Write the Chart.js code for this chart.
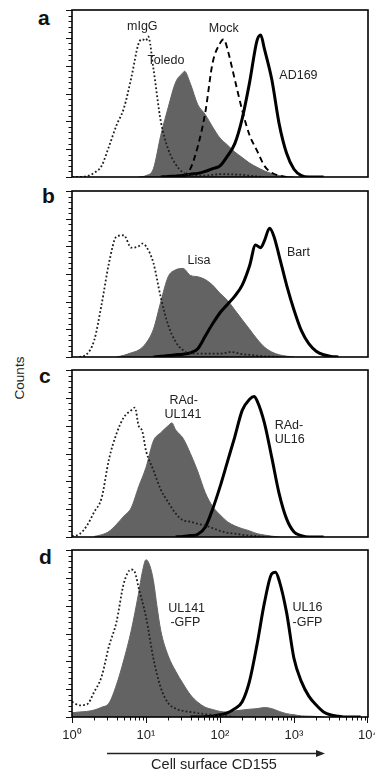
<!DOCTYPE html>
<html><head><meta charset="utf-8">
<script src="https://cdn.jsdelivr.net/npm/chart.js@4.4.1/dist/chart.umd.min.js"></script>
<style>
html,body{margin:0;padding:0;background:#fff;}
body{position:relative;width:375px;height:775px;overflow:hidden;font-family:"Liberation Sans",Arial,Helvetica,sans-serif;}
canvas{position:absolute;left:0;}
.pl{position:absolute;font-weight:bold;font-size:21px;line-height:21px;color:#111;}
#counts{position:absolute;left:20px;top:378px;font-size:13.5px;line-height:1;color:#222;white-space:nowrap;transform:translate(-50%,-50%) rotate(-90deg);}
</style></head>
<body>
<div class="pl" style="left:38px;top:7px">a</div>
<div class="pl" style="left:42px;top:185px">b</div>
<div class="pl" style="left:39px;top:365px">c</div>
<div class="pl" style="left:39px;top:546px">d</div>
<div id="counts">Counts</div>
<canvas id="ca" width="375" height="175" style="top:6px"></canvas>
<canvas id="cb" width="375" height="174" style="top:187px"></canvas>
<canvas id="cc" width="375" height="175" style="top:366px"></canvas>
<canvas id="cd" width="375" height="229" style="top:546px"></canvas>
<script>
// ---- axis ticks ----
const xTickValues = [1, 10, 100, 1000, 10000];
const xTickLabels = ['10\u2070', '10\u00b9', '10\u00b2', '10\u00b3', '10\u2074'];
const yTickValues = [0,2,4,6,8,10,12,14,16,18,20,22,24,26,28,30,32,34,36,38,40,42,44,46,48,50,52,54,56,58,60];
const xAxisTitle = 'Cell surface CD155';
const yAxisTitle = 'Counts';

// ---- data: [log10(fluorescence), counts] ----
// panel a
const aIgG = [[0,0],[0.1,0],[0.2,0.3],[0.3,1.5],[0.4,4],[0.5,11],[0.6,18.5],[0.7,24.6],[0.8,35.5],[0.9,48],[0.95,49.5],[1.0,49],[1.03,50.5],[1.1,39],[1.2,20],[1.3,10],[1.4,4.6],[1.5,1.6],[1.6,0.7],[1.7,0.5],[1.8,0.5],[1.9,0.8],[2.0,1],[2.1,1],[2.2,0.9],[2.3,0.8],[2.4,0.5],[2.5,0.2],[2.6,0]];
const aToledo = [[0.9,0],[1.0,0.5],[1.1,3],[1.2,15],[1.3,25],[1.4,34],[1.5,37.5],[1.52,38],[1.6,33.5],[1.7,26],[1.8,22.5],[1.9,18],[2.0,14],[2.1,11.5],[2.2,9],[2.3,7],[2.4,5],[2.5,3.5],[2.6,2.2],[2.7,1.2],[2.8,0.5],[2.9,0.2],[3.0,0]];
const aMock = [[1.5,0],[1.6,3],[1.7,11],[1.8,23],[1.9,41],[2.0,48],[2.05,49.5],[2.1,46],[2.2,35],[2.3,24],[2.4,15],[2.5,9.5],[2.6,4],[2.7,1.5],[2.8,0.5],[2.9,0]];
const aAD169 = [[1.2,0],[1.3,0.2],[1.4,0.3],[1.5,0.5],[1.6,1],[1.7,1.3],[1.8,2],[1.9,3],[2.0,4],[2.1,7.5],[2.2,12],[2.3,21],[2.4,34],[2.5,49],[2.55,51],[2.6,46],[2.7,35],[2.8,19],[2.9,8.5],[3.0,2.8],[3.1,0.5],[3.2,0],[3.4,0]];
// panel b
const bIgG = [[0.1,0],[0.2,1],[0.3,6],[0.4,19],[0.5,34],[0.6,43.5],[0.7,44],[0.8,39.5],[0.9,40],[0.95,41],[1.0,40],[1.1,34],[1.2,21.5],[1.3,11.5],[1.4,5.5],[1.5,2.5],[1.6,1.2],[1.8,1.2],[2.0,1.2],[2.15,1.8],[2.3,1],[2.4,0.8],[2.5,0.5],[2.6,0.3],[2.8,0]];
const bLisa = [[0.6,0],[0.7,0.6],[0.8,1.5],[0.9,2.5],[1.0,5],[1.1,10],[1.2,20],[1.3,29],[1.4,31.5],[1.5,32],[1.6,29.5],[1.7,29],[1.8,28],[1.9,26],[2.0,23],[2.1,20.5],[2.2,17],[2.3,13.5],[2.4,10],[2.5,6.5],[2.6,3.6],[2.7,1.8],[2.8,0.8],[2.9,0.3],[3.0,0]];
const bBart = [[1.1,0],[1.2,0.3],[1.3,0.5],[1.4,0.8],[1.5,1],[1.6,1.5],[1.7,3],[1.8,7.5],[1.9,12],[2.0,16],[2.1,19],[2.2,22],[2.3,26],[2.4,33],[2.48,40.5],[2.55,39.5],[2.6,42],[2.67,46.5],[2.73,43.5],[2.8,36.5],[2.9,26],[3.0,17],[3.1,9.5],[3.2,4.8],[3.3,2.1],[3.4,0.8],[3.5,0.2],[3.6,0]];
// panel c
const cIgG = [[0,0.3],[0.1,1],[0.2,4],[0.3,9],[0.4,14],[0.5,28],[0.6,37],[0.7,43],[0.8,45.5],[0.85,46.5],[0.9,40],[0.95,38],[1.0,31],[1.1,24],[1.2,17],[1.3,12.5],[1.4,8.5],[1.5,6],[1.6,5.5],[1.7,4.7],[1.8,4.1],[1.9,3.2],[2.0,2.2],[2.1,1.5],[2.2,1.2],[2.3,0.8],[2.4,0.5],[2.5,0.3],[2.6,0]];
const cUL141 = [[0.3,0.2],[0.4,0.8],[0.5,2],[0.6,4.5],[0.7,7.5],[0.8,10.5],[0.9,18],[1.0,25],[1.1,34.5],[1.2,37.5],[1.3,40],[1.35,41],[1.4,38.5],[1.5,35.5],[1.6,30],[1.7,23.5],[1.8,16],[1.9,11],[2.0,8],[2.1,5.5],[2.2,4],[2.3,3],[2.4,2.2],[2.5,1.2],[2.6,0.7],[2.7,0.3],[2.8,0]];
const cUL16 = [[1.4,0],[1.5,0.2],[1.6,0.5],[1.7,1],[1.8,3.5],[1.9,10],[2.0,18],[2.1,27],[2.2,36],[2.3,45.5],[2.4,49.5],[2.46,50.5],[2.5,49],[2.6,41],[2.7,28.5],[2.8,15.5],[2.9,6.5],[3.0,1.8],[3.1,0.5],[3.2,0],[3.4,0]];
// panel d
const dIgG = [[0,5.5],[0.1,4.2],[0.2,4.5],[0.3,9],[0.4,14.5],[0.5,25.5],[0.6,34],[0.7,48],[0.8,53],[0.85,52],[0.9,46.5],[1.0,36],[1.1,21],[1.2,10.5],[1.3,5],[1.4,3],[1.5,2.2],[1.6,1.8],[1.7,1.4],[1.8,1],[1.9,0.8],[2.0,0.5],[2.1,0.3],[2.2,0]];
const dUL141 = [[0,1.5],[0.1,1.8],[0.2,2],[0.3,2.5],[0.4,3.5],[0.5,5],[0.6,11.5],[0.7,20.5],[0.8,31],[0.9,44.5],[0.95,52],[1.0,56.5],[1.05,54.5],[1.1,49],[1.15,39.5],[1.2,31],[1.3,22],[1.4,16.5],[1.5,12],[1.6,8],[1.7,5.3],[1.8,3.5],[1.9,2.7],[2.0,2],[2.1,1.8],[2.2,2.2],[2.3,2.5],[2.4,2.8],[2.5,3],[2.6,3.4],[2.7,3],[2.8,2],[2.9,1.2],[3.0,0.8],[3.1,0.4],[3.2,0.3],[3.3,0.2],[3.4,0]];
const dUL16 = [[1.6,0],[1.8,0.1],[1.9,0.3],[2.0,0.8],[2.1,1.5],[2.2,3],[2.3,5.5],[2.4,13],[2.5,26],[2.6,41],[2.7,51.5],[2.75,52],[2.8,49],[2.9,37.5],[3.0,21],[3.1,12.7],[3.2,7.5],[3.3,4.3],[3.4,1.8],[3.5,0.7],[3.6,0.3],[3.7,0],[3.9,0]];

// ---- labels inside panels ----
const notesA = [['mIgG',0.95,53.9,'center'],['Mock',2.05,53.2,'center'],['Toledo',1.27,41.7,'center'],['AD169',3.06,36.3,'center']];
const notesB = [['Lisa',1.715,35.0,'center'],['Bart',3.06,37.7,'center']];
const notesC = [['RAd-',1.51,49.2,'center'],['UL141',1.50,44.0,'center'],['RAd-',2.74,40.2,'left'],['UL16',2.74,34.9,'left']];
const notesD = [['UL141',1.30,38.8,'left'],['-GFP',1.33,34.0,'left'],['UL16',2.98,39.5,'left'],['-GFP',2.98,34.1,'left']];

const FONT = '"Liberation Sans", Arial, Helvetica, sans-serif';
Chart.defaults.font.family = FONT;
document.getElementById('counts').textContent = yAxisTitle;

const toXY = arr => arr.map(p => ({x: Math.pow(10, p[0]), y: p[1]}));

const framePlugin = {
  id: 'frame',
  afterDraw(chart, args, o) {
    const ctx = chart.ctx, a = chart.chartArea, xs = chart.scales.x, ys = chart.scales.y;
    ctx.save();
    ctx.strokeStyle = '#111';
    ctx.lineWidth = 1;
    ctx.beginPath();
    for (const v of yTickValues) {
      const py = Math.round(ys.getPixelForValue(v)) + 0.5;
      const len = (v % 10 === 0) ? 6 : 3.5;
      ctx.moveTo(a.left - len, py); ctx.lineTo(a.left, py);
    }
    if (o.xTicks) {
      for (let n = 0; n < 4; n++) {
        for (let k = 1; k < 10; k++) {
          const px = Math.round(xs.getPixelForValue(k * Math.pow(10, n))) + 0.5;
          const len = k === 1 ? 6 : 3.5;
          ctx.moveTo(px, a.bottom); ctx.lineTo(px, a.bottom + len);
        }
      }
      const pl = Math.round(xs.getPixelForValue(10000)) - 0.5;
      ctx.moveTo(pl, a.bottom); ctx.lineTo(pl, a.bottom + 6);
    }
    ctx.stroke();
    ctx.lineWidth = 1.6;
    ctx.strokeStyle = '#000';
    ctx.strokeRect(a.left, a.top, a.right - a.left, a.bottom - a.top);
    ctx.fillStyle = '#222';
    ctx.font = '12.5px ' + FONT;
    ctx.textBaseline = 'middle';
    for (const n of o.notes) {
      ctx.textAlign = n[3];
      ctx.fillText(n[0], xs.getPixelForValue(Math.pow(10, n[1])), ys.getPixelForValue(n[2]));
    }
    if (o.arrow) {
      const y0 = a.bottom + 36.5, x0 = a.left + 35, x1 = a.right - 43;
      ctx.lineWidth = 1.3;
      ctx.strokeStyle = '#222';
      ctx.beginPath(); ctx.moveTo(x0, y0); ctx.lineTo(x1 - 6, y0); ctx.stroke();
      ctx.fillStyle = '#222';
      ctx.beginPath(); ctx.moveTo(x1, y0); ctx.lineTo(x1 - 9, y0 - 3.5); ctx.lineTo(x1 - 9, y0 + 3.5); ctx.closePath(); ctx.fill();
    }
    ctx.restore();
  }
};

const GRAY = '#636363';
function ds(kind, arr) {
  const base = {data: toXY(arr), pointRadius: 0, cubicInterpolationMode: 'monotone', fill: false, order: 1};
  if (kind === 'fill') return Object.assign(base, {backgroundColor: GRAY, borderColor: GRAY, borderWidth: 1, fill: 'origin', order: 10});
  if (kind === 'dot') return Object.assign(base, {borderColor: '#1e1e1e', borderWidth: 1.8, borderDash: [1.8, 2.2]});
  if (kind === 'dash') return Object.assign(base, {borderColor: '#000', borderWidth: 1.9, borderDash: [6, 4]});
  return Object.assign(base, {borderColor: '#000', borderWidth: 3});
}

function makeChart(id, datasets, notes, last) {
  const xAxis = {
    type: 'logarithmic', min: 1, max: 10000, display: !!last,
    afterBuildTicks: s => { s.ticks = xTickValues.map(v => ({value: v})); },
    ticks: {
      autoSkip: false, maxRotation: 0, padding: 11, color: '#222',
      font: {size: 13, family: FONT},
      callback: v => { const i = xTickValues.indexOf(v); return i >= 0 ? xTickLabels[i] : ''; }
    },
    grid: {display: false, drawTicks: false},
    border: {display: false},
    title: {display: !!last, text: xAxisTitle + '\u00a0\u00a0\u00a0', color: '#222', font: {size: 14.5, family: FONT}, padding: {top: 0, bottom: 1}},
    afterFit: s => { if (last) { s.height = 58; } s.paddingLeft = 0; s.paddingRight = 0; }
  };
  return new Chart(document.getElementById(id), {
    type: 'line',
    data: {datasets},
    options: {
      responsive: false, animation: false, parsing: true,
      layout: {padding: {left: 72, right: 7, top: 4, bottom: last ? 0 : 4}},
      scales: {
        x: xAxis,
        y: {type: 'linear', min: 0, max: 60, display: false}
      },
      plugins: {legend: {display: false}, tooltip: {enabled: false}, frame: {notes, xTicks: !!last, arrow: !!last}}
    },
    plugins: [framePlugin]
  });
}

makeChart('ca', [ds('fill', aToledo), ds('dot', aIgG), ds('dash', aMock), ds('solid', aAD169)], notesA, false);
makeChart('cb', [ds('fill', bLisa), ds('dot', bIgG), ds('solid', bBart)], notesB, false);
makeChart('cc', [ds('fill', cUL141), ds('dot', cIgG), ds('solid', cUL16)], notesC, false);
makeChart('cd', [ds('fill', dUL141), ds('dot', dIgG), ds('solid', dUL16)], notesD, true);
</script>
</body></html>
